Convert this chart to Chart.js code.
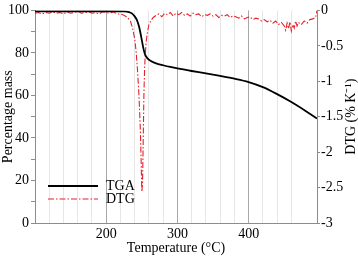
<!DOCTYPE html>
<html>
<head>
<meta charset="utf-8">
<script src="https://cdn.jsdelivr.net/npm/chart.js@4"></script>
<style>
  html, body { margin: 0; padding: 0; background: #fff; }
  #wrap { width: 358px; height: 256px; }
</style>
</head>
<body>
<div id="wrap"><canvas id="c"></canvas></div>
<script>
// TGA curve (percentage mass vs temperature)
const tgaTemp = [100, 150, 200, 225, 232, 236, 240, 243, 246, 248, 250, 252, 254, 256, 258, 260, 265, 270, 280, 290, 300, 320, 340, 360, 380, 400, 420, 440, 460, 480, 496];
const tgaMass = [99.6, 99.6, 99.6, 99.5, 99.2, 98.6, 97.2, 95.5, 92.5, 89.5, 86, 82.5, 79.8, 78.3, 77.4, 76.8, 75.8, 75.1, 74.2, 73.4, 72.7, 71.5, 70.4, 69.2, 67.9, 66.3, 63.9, 60.6, 56.9, 52.7, 49.1];

// DTG curve (% K^-1 vs temperature)
const dtgTemp = [100, 105, 110, 115, 120, 125, 130, 135, 140, 145, 150, 155, 160, 165, 170, 175, 180, 185, 190, 195, 200, 205, 210, 215, 220, 225, 230, 234, 237, 240, 242, 244, 246, 248, 249, 250, 251, 252, 253, 254, 255, 256, 258, 260, 263, 266, 270, 274, 278, 282, 286, 290, 294, 298, 302, 306, 310, 314, 318, 322, 326, 330, 334, 338, 342, 346, 350, 354, 358, 362, 366, 370, 374, 378, 382, 386, 390, 394, 398, 402, 406, 410, 414, 418, 422, 426, 430, 434, 438, 442, 446, 450, 452, 454, 456, 458, 460, 462, 464, 466, 468, 470, 474, 478, 482, 486, 490, 494, 496];
const dtgRate = [-0.04, -0.03, -0.05, -0.03, -0.04, -0.02, -0.04, -0.03, -0.05, -0.02, -0.04, -0.03, -0.01, -0.04, -0.03, -0.02, -0.04, -0.03, -0.05, -0.02, -0.03, -0.04, -0.02, -0.05, -0.05, -0.07, -0.1, -0.15, -0.25, -0.4, -0.58, -0.85, -1.2, -1.7, -2.1, -2.56, -2.45, -1.8, -1.15, -0.8, -0.6, -0.45, -0.3, -0.2, -0.14, -0.1, -0.07, -0.05, -0.09, -0.04, -0.06, -0.03, -0.08, -0.04, -0.06, -0.03, -0.07, -0.05, -0.08, -0.04, -0.06, -0.05, -0.09, -0.06, -0.07, -0.05, -0.08, -0.06, -0.1, -0.07, -0.08, -0.06, -0.1, -0.08, -0.09, -0.11, -0.08, -0.12, -0.1, -0.09, -0.13, -0.11, -0.12, -0.15, -0.13, -0.16, -0.14, -0.18, -0.15, -0.2, -0.17, -0.22, -0.28, -0.18, -0.26, -0.16, -0.29, -0.2, -0.25, -0.15, -0.22, -0.17, -0.2, -0.15, -0.18, -0.13, -0.12, -0.1, 0];

const xTicksShown = [200, 300, 400];
const massTicks = [0, 20, 40, 60, 80, 100];
const rateTicks = [0, -0.5, -1, -1.5, -2, -2.5, -3];

const FONT = 'Liberation Serif';
const AXIS = '#8c8c8c';

const overlay = {
  id: 'overlay',
  afterDraw(chart) {
    const ctx = chart.ctx;
    const area = chart.chartArea;
    ctx.save();
    // right axis title, reading bottom to top
    ctx.translate(351, (area.top + area.bottom) / 2);
    ctx.rotate(-Math.PI / 2);
    ctx.font = '14px "' + FONT + '"';
    ctx.fillStyle = '#000';
    ctx.textAlign = 'center';
    ctx.textBaseline = 'middle';
    ctx.fillText('DTG (% K\u207B\u00B9)', 0, 0);
    ctx.restore();

    // legend
    ctx.save();
    ctx.font = '14px "' + FONT + '"';
    ctx.fillStyle = '#000';
    ctx.textBaseline = 'middle';
    ctx.strokeStyle = '#000';
    ctx.lineWidth = 1.8;
    ctx.beginPath(); ctx.moveTo(48, 186); ctx.lineTo(98, 186); ctx.stroke();
    ctx.fillText('TGA', 106, 186);
    ctx.strokeStyle = '#e8202a';
    ctx.lineWidth = 1.2;
    ctx.setLineDash([6, 2, 1.5, 2]);
    ctx.beginPath(); ctx.moveTo(48, 199); ctx.lineTo(98, 199); ctx.stroke();
    ctx.fillText('DTG', 106, 199);
    ctx.restore();
  }
};

new Chart(document.getElementById('c'), {
  type: 'scatter',
  data: {
    datasets: [
      {
        label: 'TGA',
        data: tgaTemp.map((t, i) => ({ x: t, y: tgaMass[i] })),
        showLine: true,
        yAxisID: 'y',
        borderColor: '#000',
        borderWidth: 1.8,
        pointRadius: 0,
        cubicInterpolationMode: 'monotone',
        order: 1
      },
      {
        label: 'DTG',
        data: dtgTemp.map((t, i) => ({ x: t, y: dtgRate[i] })),
        showLine: true,
        yAxisID: 'y2',
        borderColor: '#e8202a',
        borderWidth: 1.1,
        borderDash: [6, 2, 1.5, 2],
        pointRadius: 0,
        tension: 0,
        order: 2
      }
    ]
  },
  options: {
    responsive: true,
    maintainAspectRatio: false,
    animation: false,
    layout: { padding: { top: 6, left: 0, right: 0, bottom: 0 } },
    plugins: { legend: { display: false }, tooltip: { enabled: false } },
    scales: {
      x: {
        type: 'linear',
        min: 100,
        max: 496,
        afterFit: s => { s.height = 33; },
        border: { color: AXIS, width: 1 },
        grid: {
          color: c => (c.tick && c.tick.value % 100 === 0) ? '#a8a8a8' : '#e6e6e6',
          tickLength: 0
        },
        ticks: {
          stepSize: 20,
          autoSkip: false,
          maxRotation: 0,
          padding: 3,
          color: '#000',
          font: { family: FONT, size: 14 },
          callback: v => xTicksShown.includes(v) ? String(v) : ''
        },
        title: {
          display: true,
          text: 'Temperature (\u00B0C)',
          color: '#000',
          font: { family: FONT, size: 14 },
          padding: { top: 0, bottom: -1 }
        }
      },
      y: {
        position: 'left',
        min: 0,
        max: 100,
        afterFit: s => { s.width = 35; },
        border: { color: AXIS, width: 1 },
        grid: { drawOnChartArea: false, color: AXIS, tickLength: 4 },
        ticks: {
          stepSize: 10,
          padding: 2,
          color: '#000',
          font: { family: FONT, size: 14 },
          callback: v => massTicks.includes(v) ? String(v) : ''
        },
        title: {
          display: true,
          text: 'Percentage mass',
          color: '#000',
          font: { family: FONT, size: 14 },
          padding: { top: 0, bottom: 0 }
        }
      },
      y2: {
        position: 'right',
        min: -3,
        max: 0,
        afterFit: s => { s.width = 41; },
        border: { color: AXIS, width: 1 },
        grid: { drawOnChartArea: false, color: AXIS, tickLength: 3 },
        ticks: {
          stepSize: 0.25,
          padding: 1,
          color: '#000',
          font: { family: FONT, size: 14 },
          callback: v => rateTicks.includes(v) ? String(v) : ''
        }
      }
    }
  },
  plugins: [overlay]
});
</script>
</body>
</html>
